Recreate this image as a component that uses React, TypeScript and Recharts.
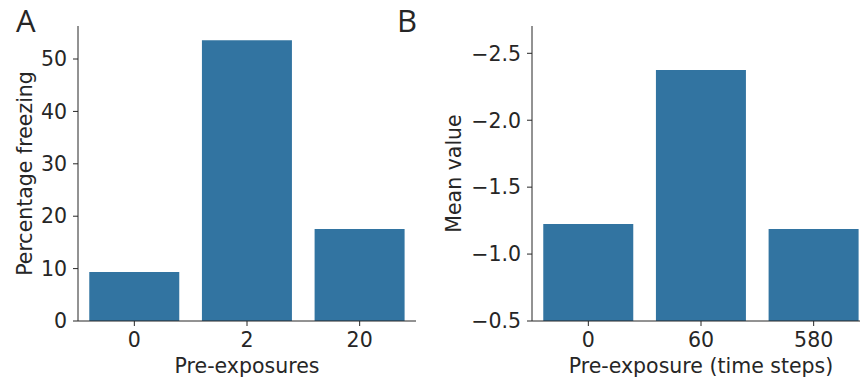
import { BarChart, Bar, XAxis, YAxis, Label } from 'recharts';

const exposureCats = ['0', '2', '20'];
const freezingPct = [9.35, 53.6, 17.56];
const freezingTicks = [0, 10, 20, 30, 40, 50];

const stepCats = ['0', '60', '580'];
const meanValues = [-1.225, -2.376, -1.188];
const meanTicks = [-0.5, -1.0, -1.5, -2.0, -2.5];

const dataA = exposureCats.map((c, i) => ({ cat: c, value: freezingPct[i] }));
const dataB = stepCats.map((c, i) => ({ cat: c, value: meanValues[i] }));

const INK = '#262626';
const BAR = '#3274a1';
const FONT = '"DejaVu Sans", sans-serif';
const tickStyle = { fill: INK, fontSize: 20.5, fontFamily: FONT };
const labelStyle = { fill: INK, fontSize: 20.5, fontFamily: FONT, textAnchor: 'middle' as const };

const fmtMinus = (v: number) => (v < 0 ? '\u2212' : '') + Math.abs(v).toFixed(1);

export default function App() {
  return (
    <div style={{ position: 'fixed', left: 0, top: 0, width: 860, height: 379, overflow: 'hidden', background: '#fff' }}>
      <div style={{ position: 'absolute', left: 0, top: 0 }}>
        <BarChart width={430} height={379} data={dataA} margin={{ top: 26, right: 14, left: 0, bottom: 0 }} barCategoryGap="10%">
          <XAxis dataKey="cat" stroke={INK} tick={tickStyle} tickSize={5} tickMargin={6} height={58}>
            <Label value="Pre-exposures" position="insideBottom" offset={6} style={labelStyle} />
          </XAxis>
          <YAxis
            type="number"
            domain={[0, 56.3]}
            ticks={freezingTicks}
            stroke={INK}
            tick={tickStyle}
            tickSize={5}
            tickMargin={6}
            width={78}
          >
            <Label value="Percentage freezing" angle={-90} position="insideLeft" offset={25} style={labelStyle} />
          </YAxis>
          <Bar dataKey="value" fill={BAR} isAnimationActive={false} />
        </BarChart>
      </div>
      <div style={{ position: 'absolute', left: 430, top: 0 }}>
        <BarChart width={440} height={379} data={dataB} margin={{ top: 26, right: 0, left: 0, bottom: 0 }} barCategoryGap="10%">
          <XAxis dataKey="cat" stroke={INK} tick={tickStyle} tickSize={5} tickMargin={6} height={58}>
            <Label value="Pre-exposure (time steps)" position="insideBottom" offset={6} style={labelStyle} />
          </XAxis>
          <YAxis
            type="number"
            domain={[-2.704, -0.5]}
            reversed
            ticks={meanTicks}
            tickFormatter={fmtMinus}
            stroke={INK}
            tick={tickStyle}
            tickSize={5}
            tickMargin={6}
            width={102}
          >
            <Label value="Mean value" angle={-90} position="insideLeft" offset={24} style={labelStyle} />
          </YAxis>
          <Bar dataKey="value" fill={BAR} isAnimationActive={false} />
        </BarChart>
      </div>
      <svg width={860} height={379} style={{ position: 'absolute', left: 0, top: 0, pointerEvents: 'none' }}>
        <text x={16} y={32} fill={INK} fontSize={31} fontFamily='"Open Sans", sans-serif'>A</text>
        <text x={397} y={32} fill={INK} fontSize={31} fontFamily='"Open Sans", sans-serif'>B</text>
      </svg>
    </div>
  );
}
